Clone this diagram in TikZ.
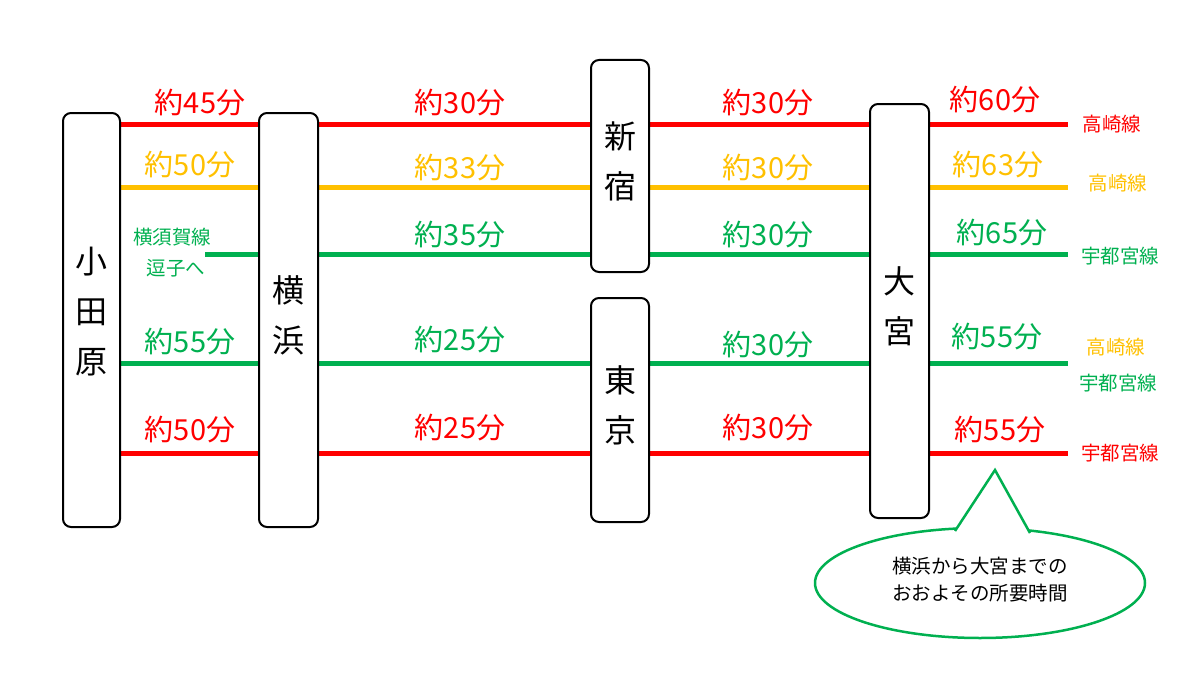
\documentclass[tikz,border=0pt]{standalone}
\usepackage{fontspec}
\setmainfont{Noto Sans CJK JP}
\usetikzlibrary{shapes.geometric}
\definecolor{cr}{HTML}{FF0000}
\definecolor{cy}{HTML}{FFC000}
\definecolor{cg}{HTML}{00B050}
\begin{document}
\begin{tikzpicture}[x=1pt,y=-1pt,
 st/.style={draw=black,line width=2pt,fill=white,rounded corners=8pt,inner sep=0pt},
 ln/.style={line width=5pt},
 lb/.style={font=\fontsize{29}{31}\selectfont,inner sep=0pt},
 sm/.style={font=\fontsize{19.5}{21}\selectfont,inner sep=0pt},
 nm/.style={font=\fontsize{32}{50}\selectfont,align=center,inner sep=0pt}]
\useasboundingbox (0,0) rectangle (1200,693);
% lines
\coordinate (r1a) at (120,124); \coordinate (r1b) at (1068,124);
\coordinate (y1a) at (120,187); \coordinate (y1b) at (1068,187);
\coordinate (g1a) at (205,254); \coordinate (g1b) at (1068,254);
\coordinate (g2a) at (120,363); \coordinate (g2b) at (1068,363);
\coordinate (r2a) at (120,453); \coordinate (r2b) at (1068,453);
\draw[ln,cr] (r1a)--(r1b);
\draw[ln,cy] (y1a)--(y1b);
\draw[ln,cg] (g1a)--(g1b);
\draw[ln,cg] (g2a)--(g2b);
\draw[ln,cr] (r2a)--(r2b);
% stations
\node[st,minimum width=57pt,minimum height=414pt] (odw) at (91.5,320) {};
\node[nm] (odwt) at (91.5,312) {小\\田\\原};
\node[st,minimum width=59pt,minimum height=414pt] (ykh) at (288.5,320) {};
\node[nm] (ykht) at (288.5,315) {横\\浜};
\node[st,minimum width=58pt,minimum height=212pt] (snj) at (620,166) {};
\node[nm] (snjt) at (620,161) {新\\宿};
\node[st,minimum width=58pt,minimum height=224pt] (tky) at (620,410) {};
\node[nm] (tkyt) at (620,405) {東\\京};
\node[st,minimum width=59pt,minimum height=414pt] (omy) at (899.5,311) {};
\node[nm] (omyt) at (899.5,306) {大\\宮};
% row 1
\node[lb,cr] (a1) at (200,103) {約45分};
\node[lb,cr] (a2) at (460,103) {約30分};
\node[lb,cr] (a3) at (768,103) {約30分};
\node[lb,cr] (a4) at (995,100) {約60分};
\node[sm,cr] (a5) at (1112,124) {高崎線};
% row 2
\node[lb,cy] (b1) at (190,165) {約50分};
\node[lb,cy] (b2) at (460,168) {約33分};
\node[lb,cy] (b3) at (768,168) {約30分};
\node[lb,cy] (b4) at (998,165) {約63分};
\node[sm,cy] (b5) at (1118,183) {高崎線};
% row 3
\node[sm,cg] (c0) at (172,237) {横須賀線};
\node[sm,cg] (c0b) at (176,268) {逗子へ};
\node[lb,cg] (c2) at (460,235) {約35分};
\node[lb,cg] (c3) at (768,235) {約30分};
\node[lb,cg] (c4) at (1002,233) {約65分};
\node[sm,cg] (c5) at (1120,256) {宇都宮線};
% row 4
\node[lb,cg] (d1) at (190,342) {約55分};
\node[lb,cg] (d2) at (460,340) {約25分};
\node[lb,cg] (d3) at (768,345) {約30分};
\node[lb,cg] (d4) at (997,337) {約55分};
\node[sm,cy] (d5) at (1116,347) {高崎線};
\node[sm,cg] (d6) at (1118,383) {宇都宮線};
% row 5
\node[lb,cr] (e1) at (190,430) {約50分};
\node[lb,cr] (e2) at (460,428) {約25分};
\node[lb,cr] (e3) at (768,428) {約30分};
\node[lb,cr] (e4) at (1000,430) {約55分};
\node[sm,cr] (e5) at (1120,453) {宇都宮線};
% callout
\node[ellipse,draw=cg,line width=2.5pt,fill=white,minimum width=330pt,minimum height=110pt] (co) at (980,583) {};
\coordinate (tip) at (995,470);
\coordinate (t1) at (955,531);
\coordinate (t2) at (1030,533);
\fill[white] (t1)--(tip)--(t2)--cycle;
\draw[cg,line width=2.5pt,line join=miter] (t1)--(tip)--(t2);
\node[black,align=center,inner sep=0pt,font=\fontsize{19.5}{27}\selectfont] (cot) at (980,580) {横浜から大宮までの\\おおよその所要時間};
\end{tikzpicture}
\end{document}
